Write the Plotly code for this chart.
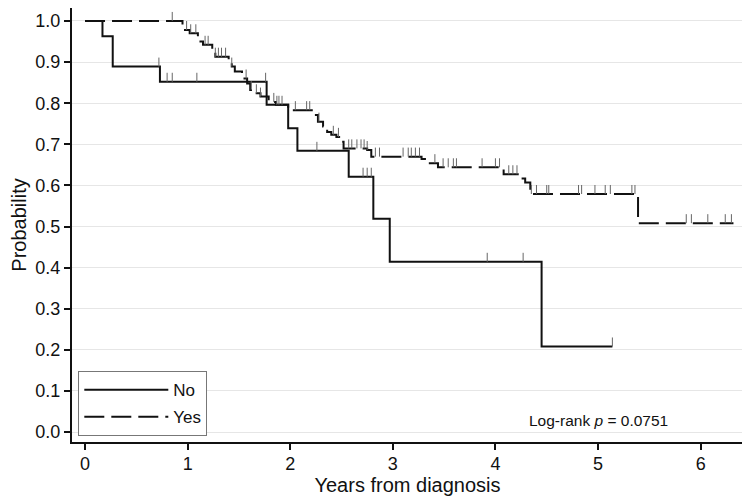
import numpy as np
import plotly.graph_objects as go

# ---- data (Kaplan-Meier step curves) ----
no_times = [0, 0.17, 0.27, 0.73, 1.77, 1.98, 2.07, 2.57, 2.81, 2.97, 4.45, 5.14]
no_surv = [1.0, 0.963, 0.889, 0.852, 0.796, 0.739, 0.684, 0.621, 0.519, 0.414, 0.208, 0.208]
no_censor = [0.72, 0.80, 0.85, 1.09, 1.76, 2.26, 2.71, 2.75, 2.79, 3.92, 4.27, 5.14]

yes_times = [0, 0.95, 1.02, 1.10, 1.15, 1.24, 1.27, 1.40, 1.43, 1.46, 1.53, 1.58, 1.61,
             1.66, 1.71, 1.79, 1.86, 1.98, 2.21, 2.27, 2.32, 2.36, 2.40, 2.45, 2.49,
             2.52, 2.75, 2.79, 3.28, 3.35, 3.44, 4.08, 4.24, 4.29, 4.34, 5.39, 6.32]
yes_surv = [1.0, 0.978, 0.970, 0.950, 0.942, 0.929, 0.913, 0.901, 0.889, 0.877, 0.860,
            0.848, 0.832, 0.824, 0.816, 0.803, 0.796, 0.783, 0.771, 0.755, 0.743, 0.730,
            0.723, 0.718, 0.706, 0.690, 0.686, 0.670, 0.664, 0.654, 0.644, 0.627, 0.617,
            0.607, 0.579, 0.508, 0.508]
yes_censor = [0.85, 0.99, 1.03, 1.08, 1.17, 1.20, 1.27, 1.30, 1.33, 1.37, 1.43, 1.57,
              1.62, 1.67, 1.71, 1.84, 1.87, 1.89, 1.92, 2.05, 2.16, 2.19, 2.28, 2.42,
              2.47, 2.57, 2.60, 2.65, 2.69, 2.72, 2.75, 2.83, 2.87, 3.10, 3.15, 3.18,
              3.22, 3.26, 3.41, 3.49, 3.54, 3.59, 3.62, 3.87, 4.00, 4.04, 4.13, 4.17,
              4.21, 4.35, 4.40, 4.50, 4.52, 4.81, 4.84, 4.97, 5.07, 5.12, 5.33, 5.36,
              5.86, 5.91, 6.07, 6.24, 6.30]

x_ticks = [0, 1, 2, 3, 4, 5, 6]
y_ticks = [round(0.1 * i, 1) for i in range(11)]
pvalue_text = "Log-rank <i>p</i> = 0.0751"

TICK_H = 0.022
FONT = "Liberation Sans, Arial, sans-serif"


def censor_segments(times, surv, cens):
    t = np.asarray(times)
    s = np.asarray(surv)
    xs, ys = [], []
    for c in cens:
        idx = np.searchsorted(t, c, side="right") - 1
        lvl = s[max(idx, 0)]
        xs += [c, c, None]
        ys += [lvl, lvl + TICK_H, None]
    return xs, ys


fig = go.Figure()

fig.add_trace(go.Scatter(x=no_times, y=no_surv, mode="lines", line_shape="hv",
                         line=dict(color="#111111", width=2), name="No",
                         legendgroup="no"))
fig.add_trace(go.Scatter(x=yes_times, y=yes_surv, mode="lines", line_shape="hv",
                         line=dict(color="#111111", width=2, dash="20px,7px"),
                         name="Yes", legendgroup="yes"))

for times, surv, cens in [(no_times, no_surv, no_censor), (yes_times, yes_surv, yes_censor)]:
    cx, cy = censor_segments(times, surv, cens)
    fig.add_trace(go.Scatter(x=cx, y=cy, mode="lines",
                             line=dict(color="#666666", width=1),
                             showlegend=False, hoverinfo="skip"))

fig.add_annotation(x=5.0, y=0.027, xref="x", yref="y", text=pvalue_text,
                   showarrow=False, font=dict(family=FONT, size=15.5, color="#111111"))

# the page body adds an 8px offset, so the figure is 8px smaller on each axis
fig.update_layout(
    width=742, height=492,
    margin=dict(l=64, r=7, t=0, b=58),
    plot_bgcolor="white", paper_bgcolor="white",
    font=dict(family=FONT, color="#111111"),
    showlegend=True,
    legend=dict(x=0.0094, y=0.0136, xanchor="left", yanchor="bottom",
                bordercolor="#777777", borderwidth=1, bgcolor="white",
                font=dict(family=FONT, size=17, color="#111111"),
                tracegroupgap=2, itemwidth=84),
    xaxis=dict(range=[-0.127, 6.413], tickvals=x_ticks, showgrid=False,
               zeroline=False, showline=True, linecolor="#111111", linewidth=2,
               ticks="outside", ticklen=6, tickwidth=1.5, tickcolor="#111111",
               tickfont=dict(size=18), automargin=False, ticklabelstandoff=-2,
               title=dict(text="Years from diagnosis", font=dict(size=20), standoff=0)),
    yaxis=dict(range=[-0.0243, 1.0316], tickvals=y_ticks, tickformat=".1f",
               showgrid=True, gridcolor="#e6e6e6", gridwidth=1, zeroline=False,
               showline=True, linecolor="#111111", linewidth=2,
               ticks="outside", ticklen=6, tickwidth=1.5, tickcolor="#111111",
               tickfont=dict(size=18), automargin=False,
               title=dict(text="Probability", font=dict(size=20), standoff=12)),
)

fig.write_html("out.html")
